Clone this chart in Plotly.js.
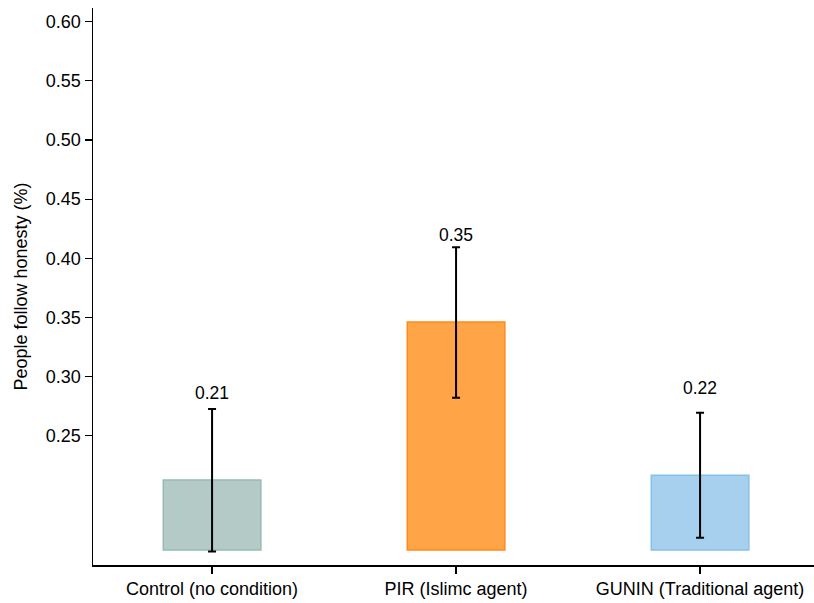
<!DOCTYPE html>
<html><head><meta charset="utf-8">
<script src="https://cdn.plot.ly/plotly-3.0.1.min.js"></script>
<style>html,body{margin:0;padding:0;background:#fff}</style>
</head><body><div id="chart" style="width:814px;height:603px"></div>
<script>
const categories = ["Control (no condition)", "PIR (Islimc agent)", "GUNIN (Traditional agent)"];
const means = [0.2125, 0.3461, 0.2166];
const errUpper = [0.2726, 0.4093, 0.2694];
const errLower = [0.1522, 0.2821, 0.1638];
const labels = ["0.21", "0.35", "0.22"];
const barBase = 0.1534;
const fillColors = ["rgba(179,202,199,1)", "rgba(255,165,72,1)", "rgba(166,208,238,1)"];
const lineColors = ["rgb(150,186,181)", "rgb(255,140,25)", "rgb(135,192,234)"];
const yTicks = [0.25, 0.30, 0.35, 0.40, 0.45, 0.50, 0.55, 0.60];
const FONT = "Liberation Sans, Arial, sans-serif";

const barTrace = {
  type: "bar", x: categories,
  y: means.map(v => v - barBase), base: barBase,
  width: 0.4,
  marker: {color: fillColors, line: {color: lineColors, width: 1.5}},
  hoverinfo: "skip", showlegend: false
};
const errTrace = {
  type: "scatter", mode: "markers", x: categories, y: means,
  marker: {opacity: 0, size: 1},
  error_y: {type: "data", symmetric: false,
    array: errUpper.map((u, i) => u - means[i]),
    arrayminus: means.map((m, i) => m - errLower[i]),
    color: "black", thickness: 2, width: 4},
  showlegend: false, hoverinfo: "skip"
};
const annotations = categories.map((c, i) => ({
  x: c, y: means[i] + 0.0735, text: labels[i], showarrow: false,
  xref: "x", yref: "y", font: {size: 17.5, color: "#000", family: FONT}
}));

Plotly.newPlot("chart", [barTrace, errTrace], {
  width: 814, height: 603,
  margin: {l: 93, r: 0, t: 8, b: 38},
  paper_bgcolor: "#fff", plot_bgcolor: "#fff",
  font: {family: FONT, size: 18, color: "#000"},
  xaxis: {range: [-0.488, 2.467], showline: true, linecolor: "#000", linewidth: 1.5,
    ticks: "outside", ticklen: 7, tickcolor: "#000", tickwidth: 1.2, showgrid: false,
    zeroline: false, tickfont: {size: 18}},
  yaxis: {range: [0.1407, 0.6116], showline: true, linecolor: "#000", linewidth: 1.5,
    ticks: "outside", ticklen: 7, tickcolor: "#000", tickwidth: 1.2, showgrid: false,
    zeroline: false, tickvals: yTicks, ticktext: yTicks.map(v => v.toFixed(2)),
    tickfont: {size: 18},
    title: {text: "People follow honesty (%)", font: {size: 18}, standoff: 13}},
  annotations: annotations
}, {displayModeBar: false, staticPlot: true});
</script></body></html>
